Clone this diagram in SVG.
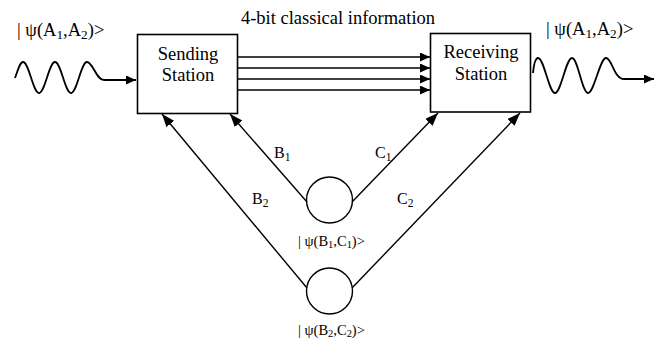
<svg xmlns="http://www.w3.org/2000/svg" width="660" height="339" viewBox="0 0 660 339">
  <defs>
    <marker id="arrowH" markerUnits="userSpaceOnUse" markerWidth="11" markerHeight="9" refX="10" refY="4.5" orient="auto">
      <path d="M0,0 L10,4.5 L0,9 z" fill="#000"/>
    </marker>
    <marker id="arrowD" markerUnits="userSpaceOnUse" markerWidth="14" markerHeight="11" refX="13" refY="5" orient="auto">
      <path d="M0,0 L13,5 L0,10 z" fill="#000"/>
    </marker>
    <style>
      text { font-family: "Liberation Serif", "Times New Roman", serif; fill: #000; }
      .box { fill: #fff; stroke: #000; stroke-width: 1.6; }
      .title { font-size: 18.5px; }
      .lab { font-size: 18.5px; }
      .bc { font-size: 16px; }
      .state { font-size: 14.5px; }
      .sub { font-size: 0.72em; }
      .wire { fill: none; stroke: #000; stroke-width: 1.4; }
      .wave { fill: none; stroke: #000; stroke-width: 1.8; }
      .pair { fill: #fff; stroke: #000; stroke-width: 1.4; }
    </style>
  </defs>
  <rect width="660" height="339" fill="#fff"/>

  <!-- heading over the classical channel -->
  <text class="title" x="338" y="24" text-anchor="middle">4-bit classical information</text>

  <!-- incoming state and wave -->
  <g id="input-state">
    <text class="lab" x="17" y="36">| ψ(A<tspan class="sub" dy="3">1</tspan><tspan dy="-3">,A</tspan><tspan class="sub" dy="3">2</tspan><tspan dy="-3">)&gt;</tspan></text>
    <path class="wave" d="M15,78 C18,70 20,62 23,62 C29,62 33,93 39,93 C45,93 49,62 55,62 C61,62 65,93 71,93 C77,93 81,62 87,62 C93,62 96,80 104,80 L136,80" marker-end="url(#arrowH)"/>
  </g>

  <!-- outgoing state and wave -->
  <g id="output-state">
    <text class="lab" x="546" y="35">| ψ(A<tspan class="sub" dy="3">1</tspan><tspan dy="-3">,A</tspan><tspan class="sub" dy="3">2</tspan><tspan dy="-3">)&gt;</tspan></text>
    <path class="wave" d="M533,73 C534,63 536,58 538,58 C544,58 549,93 555,93 C561,93 566,58 572,58 C578,58 582,93 588,93 C594,93 600,58 606,58 C612,58 614,79 624,79 L654,79" marker-end="url(#arrowH)"/>
  </g>

  <g id="sending-station">
    <rect class="box" x="137.5" y="34.5" width="100" height="79"/>
    <text class="lab" x="188" y="60" text-anchor="middle">Sending</text>
    <text class="lab" x="188" y="81" text-anchor="middle">Station</text>
  </g>

  <g id="receiving-station">
    <rect class="box" x="430.5" y="33.5" width="100" height="78.5"/>
    <text class="lab" x="481" y="58" text-anchor="middle">Receiving</text>
    <text class="lab" x="481" y="80" text-anchor="middle">Station</text>
  </g>

  <g id="pair-1">
    <circle class="pair" cx="329.5" cy="200" r="23"/>
    <text class="state" x="298" y="246">| ψ(B<tspan class="sub" dy="2">1</tspan><tspan dy="-2">,C</tspan><tspan class="sub" dy="2">1</tspan><tspan dy="-2">)&gt;</tspan></text>
  </g>

  <g id="pair-2">
    <circle class="pair" cx="329.5" cy="291" r="23"/>
    <text class="state" x="298" y="335">| ψ(B<tspan class="sub" dy="2">2</tspan><tspan dy="-2">,C</tspan><tspan class="sub" dy="2">2</tspan><tspan dy="-2">)&gt;</tspan></text>
  </g>

  <g id="connectors">
    <!-- four classical bits -->
    <line class="wire" x1="238" y1="57" x2="430" y2="57" marker-end="url(#arrowH)"/>
    <line class="wire" x1="238" y1="68" x2="430" y2="68" marker-end="url(#arrowH)"/>
    <line class="wire" x1="238" y1="79" x2="430" y2="79" marker-end="url(#arrowH)"/>
    <line class="wire" x1="238" y1="90" x2="430" y2="90" marker-end="url(#arrowH)"/>
    <!-- entangled halves -->
    <line class="wire" x1="307" y1="202" x2="230" y2="114" marker-end="url(#arrowD)"/>
    <line class="wire" x1="352" y1="202" x2="438" y2="113" marker-end="url(#arrowD)"/>
    <line class="wire" x1="307" y1="288" x2="162" y2="114" marker-end="url(#arrowD)"/>
    <line class="wire" x1="352" y1="288" x2="520" y2="113" marker-end="url(#arrowD)"/>
    <text class="bc" x="274" y="158">B<tspan class="sub" dy="3">1</tspan></text>
    <text class="bc" x="375" y="158">C<tspan class="sub" dy="3">1</tspan></text>
    <text class="bc" x="252" y="204">B<tspan class="sub" dy="3">2</tspan></text>
    <text class="bc" x="397" y="204">C<tspan class="sub" dy="3">2</tspan></text>
  </g>
</svg>
